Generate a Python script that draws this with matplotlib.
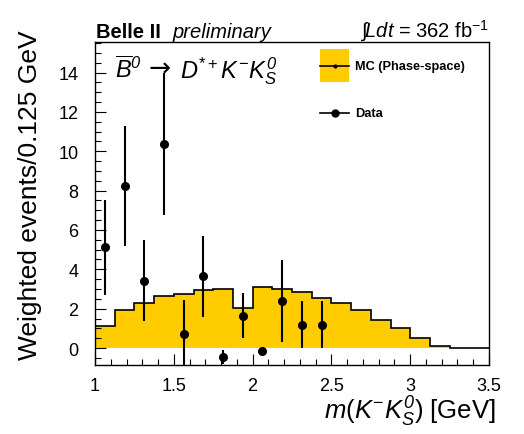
import numpy as np
import matplotlib
matplotlib.use("Agg")
import matplotlib.pyplot as plt
from matplotlib.patches import Rectangle
from matplotlib.lines import Line2D
from matplotlib.ticker import MultipleLocator, FuncFormatter

plt.rcParams['font.family'] = ['Liberation Sans', 'DejaVu Sans']
plt.rcParams['mathtext.fontset'] = 'custom'
plt.rcParams['mathtext.rm'] = 'Liberation Sans'
plt.rcParams['mathtext.it'] = 'Liberation Sans:italic'
plt.rcParams['mathtext.bf'] = 'Liberation Sans:bold'
plt.rcParams['mathtext.cal'] = 'Liberation Sans:italic'

# ---- data ----
bin_edges = np.linspace(1.0, 3.5, 21)
mc_values = [1.10, 1.95, 2.30, 2.66, 2.76, 2.93, 2.98, 2.03, 3.12, 3.00,
             2.83, 2.56, 2.27, 1.92, 1.44, 1.00, 0.53, 0.12, 0.02, 0.0]
data_x = [1.0625, 1.1875, 1.3125, 1.4375, 1.5625, 1.6875, 1.8125, 1.9375,
          2.0625, 2.1875, 2.3125, 2.4375]
data_y = [5.12, 8.22, 3.42, 10.36, 0.73, 3.64, -0.46, 1.64, -0.14, 2.39, 1.19, 1.19]
data_err = [2.42, 3.04, 2.06, 3.62, 1.73, 2.07, 0.35, 1.14, 0.0, 2.07, 1.19, 1.19]

W, H = 524, 435
fig = plt.figure(figsize=(W / 100, H / 100), dpi=100)
ax = fig.add_axes([95 / W, 1 - 366 / H, (489 - 95) / W, (366 - 43) / H])

ax.stairs(mc_values, bin_edges, fill=True, color='#FFCC00', baseline=0, zorder=1)
ax.stairs(mc_values, bin_edges, fill=False, color='black', baseline=None,
          linewidth=1.2, zorder=2)
ax.errorbar(data_x, data_y, yerr=data_err, fmt='o', color='black',
            markersize=5.5, elinewidth=1.5, capsize=0, zorder=3)

ax.set_xlim(1.0, 3.5)
ax.set_ylim(-0.86, 15.55)
ax.xaxis.set_major_locator(MultipleLocator(0.5))
ax.xaxis.set_minor_locator(MultipleLocator(0.1))
ax.yaxis.set_major_locator(MultipleLocator(2))
ax.yaxis.set_minor_locator(MultipleLocator(0.5))
ax.xaxis.set_major_formatter(FuncFormatter(lambda v, p: f'{v:g}'))
ax.tick_params(which='both', direction='in', top=False, right=False,
               labelsize=13)
ax.tick_params(which='major', length=8, width=0.8)
ax.tick_params(which='minor', length=4, width=0.8)
ax.tick_params(axis='x', pad=9)
ax.tick_params(axis='y', pad=12)
for s in ax.spines.values():
    s.set_linewidth(1.0)

ax.set_ylabel('Weighted events/0.125 GeV', fontsize=19)
ax.yaxis.set_label_coords(-0.135, 0.53)
ax.set_xlabel(r'$m(K^{-}K^{\mathcal{0}}_{S})$ [GeV]', fontsize=18.5)
ax.xaxis.set_label_coords(1.018, -0.09)
ax.xaxis.label.set_horizontalalignment('right')

# header texts
fig.text(96 / W, 1 - 38 / H, 'Belle II', fontsize=14.5, fontweight='bold', va='baseline')
fig.text(172 / W, 1 - 38 / H, 'preliminary', fontsize=14.5, fontstyle='italic', va='baseline')
fig.text(489 / W, 1 - 38 / H, r'$\int\!Ldt$ = 362 fb$^{-1}$', fontsize=14.5,
         ha='right', va='baseline')

# decay label (three pieces)
yb = (366 - 78) / 323
ax.text((115 - 95) / 394, yb, r'$\overline{B}^{\mathcal{0}}$',
        transform=ax.transAxes, fontsize=17, va='baseline')
ax.text((149 - 95) / 394, yb + 0.004, '\u2192', family=['DejaVu Sans'],
        transform=ax.transAxes, fontsize=19, va='baseline', zorder=6)
ax.text((180 - 95) / 394, yb, r'$D^{*+}K^{-}K^{\mathcal{0}}_{S}$',
        transform=ax.transAxes, fontsize=17, va='baseline')

# legend
ax.add_patch(Rectangle((0.571, 0.876), 0.074, 0.102, transform=ax.transAxes,
                       facecolor='#FFCC00', edgecolor='none', zorder=4))
ax.add_line(Line2D([0.571, 0.645], [0.927, 0.927], transform=ax.transAxes,
                   color='black', linewidth=1.2, zorder=5))
ax.plot([0.608], [0.927], 'o', color='black', markersize=2, transform=ax.transAxes, zorder=5)
ax.text(0.66, 0.927, 'MC (Phase-space)', transform=ax.transAxes, fontsize=9.2,
        fontweight='bold', va='center')
ax.add_line(Line2D([0.571, 0.645], [0.78, 0.78], transform=ax.transAxes,
                   color='black', linewidth=1.2, zorder=5))
ax.plot([0.608], [0.78], 'o', color='black', markersize=5, transform=ax.transAxes, zorder=5)
ax.text(0.66, 0.78, 'Data', transform=ax.transAxes, fontsize=9.2,
        fontweight='bold', va='center')

fig.savefig('out.png', dpi=100)
